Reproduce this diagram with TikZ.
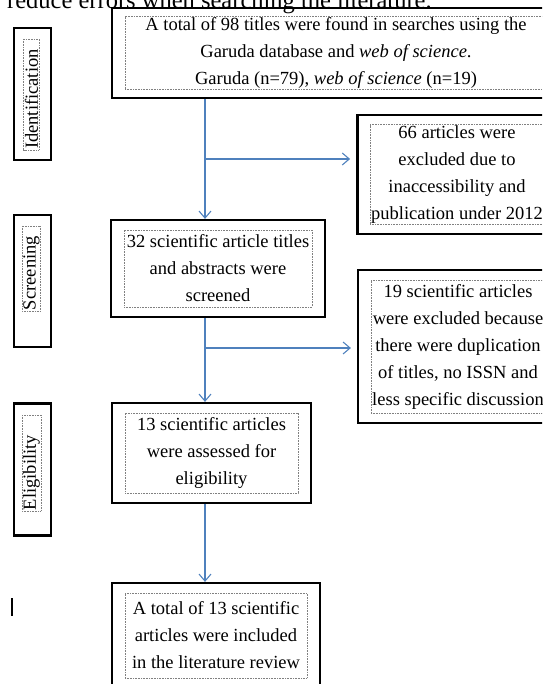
\documentclass[tikz,border=0pt]{standalone}
\usepackage{fontspec}
\setmainfont{Liberation Serif}
\usetikzlibrary{arrows.meta,fit}
\definecolor{flowblue}{RGB}{79,129,189}
\tikzset{
  txtframe/.style={draw=gray, line width=0.8pt, dash pattern=on 0.8pt off 0.8pt,
    inner sep=1pt, align=center, font=\fontsize{18.5}{27}\selectfont},
  outerbox/.style={draw, line width=2.4pt, inner xsep=12.5pt, inner ysep=9.5pt},
  sidebox/.style={draw, line width=2.4pt, minimum width=37pt, minimum height=132pt},
  sidetxt/.style={txtframe, rotate=90, align=left},
  flowarrow/.style={draw=flowblue, line width=1.1pt,
    -{Straight Barb[length=7pt,width=12pt,line width=1.1pt]}},
}
\begin{document}
\begin{tikzpicture}[x=1pt,y=-1pt]
    \useasboundingbox (0,0) rectangle (542,684);
    \clip (0,0) rectangle (542,684);

    % Line of the text above the chart
    \node[anchor=base west, inner sep=0, font=\fontsize{24.5}{29}\selectfont] (head) at (7,9)
        {reduce errors when searching the literature.};

    % Stage labels on the left
    \node[sidebox] (id) at (32.5,94) {};
    \node[sidetxt, text width=109pt] (idtxt) at (31.5,94.5) {Identification};
    \node[sidebox] (scr) at (32.5,281) {};
    \node[sidetxt, text width=83pt] (scrtxt) at (31.5,268.5) {Screening};
    \node[sidebox] (elig) at (32.5,469.5) {};
    \node[sidetxt, text width=94pt] (eligtxt) at (31.5,463) {Eligibility};

    % Main column of boxes
    \node[txtframe, minimum width=422pt, minimum height=71pt] (foundtxt) at (336,53)
        {A total of 98 titles were found in searches using the\\
         Garuda database and \textit{web of science}.\\
         Garuda (n=79), \textit{web of science} (n=19)};
    \node[outerbox, inner ysep=8pt, fit=(foundtxt)] (found) {};

    \node[txtframe, minimum width=188pt, minimum height=77pt] (screenedtxt) at (218,268.5)
        {32 scientific article titles\\ and abstracts were\\ screened};
    \node[outerbox, fit=(screenedtxt)] (screened) {};

    \node[txtframe, minimum width=173pt, minimum height=80pt] (assessedtxt) at (211.5,453)
        {13 scientific articles\\ were assessed for\\ eligibility};
    \node[outerbox, fit=(assessedtxt)] (assessed) {};

    \node[txtframe, minimum width=182pt, minimum height=85pt] (includedtxt) at (216,635.5)
        {A total of 13 scientific\\ articles were included\\ in the literature review};
    \node[outerbox, fit=(includedtxt)] (included) {};

    % Excluded records on the right
    \node[txtframe, minimum width=172pt, minimum height=95pt] (excl1txt) at (457,174.5)
        {66 articles were\\ excluded due to\\ inaccessibility and\\ publication under 2012};
    \node[outerbox, fit=(excl1txt)] (excl1) {};

    \node[txtframe, minimum width=174pt, minimum height=133pt] (excl2txt) at (458,346.5)
        {19 scientific articles\\ were excluded because\\ there were duplication\\ of titles, no ISSN and\\ less specific discussion};
    \node[outerbox, fit=(excl2txt)] (excl2) {};

    % Arrows
    \coordinate (spine) at (205,0);
    \coordinate (j1) at (205,159);
    \coordinate (j2) at (205,348);
    \draw[flowarrow] (found.south -| spine) -- (screened.north -| spine);
    \draw[flowarrow, shorten >=6pt] (j1) -- (j1 -| excl1.west);
    \draw[flowarrow] (screened.south -| spine) -- (assessed.north -| spine);
    \draw[flowarrow, shorten >=6pt] (j2) -- (j2 -| excl2.west);
    \draw[flowarrow] (assessed.south -| spine) -- (included.north -| spine);

    % Text cursor mark
    \draw[line width=1.4pt] (12,598) -- (12,616);
\end{tikzpicture}
\end{document}
